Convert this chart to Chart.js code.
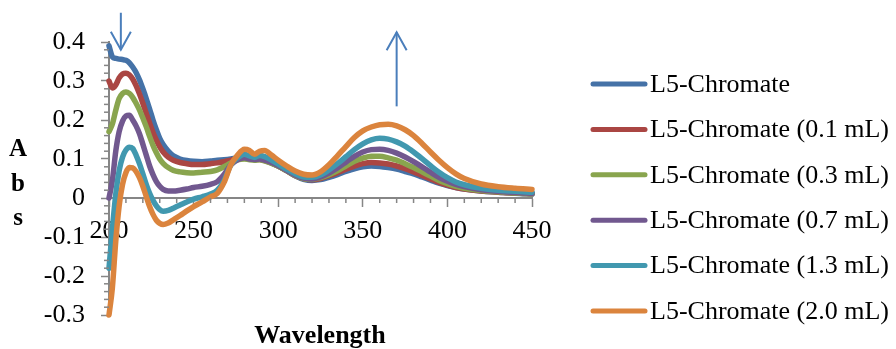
<!DOCTYPE html>
<html>
<head>
<meta charset="utf-8">
<script src="https://cdn.jsdelivr.net/npm/chart.js@4.4.0/dist/chart.umd.min.js"></script>
<style>
html, body { margin: 0; padding: 0; background: #fff; }
#wrap { position: relative; width: 896px; height: 349px; }
</style>
</head>
<body>
<div id="wrap"><canvas id="uvchart" width="896" height="349"></canvas></div>
<script>
// wavelength (nm) and absorbance
var wavelengths = [200, 202, 204, 206, 208, 210, 212, 214, 216, 218, 220, 222, 224, 226, 228, 230, 232, 235, 238, 242, 246, 250, 255, 260, 264, 268, 272, 276, 280, 283, 286, 289, 292, 296, 300, 305, 310, 315, 320, 325, 330, 335, 340, 345, 350, 355, 360, 365, 370, 375, 380, 385, 390, 395, 400, 405, 410, 420, 430, 440, 450]

var abs_l5 = [0.39, 0.362, 0.358, 0.356, 0.355, 0.353, 0.347, 0.336, 0.322, 0.303, 0.28, 0.255, 0.228, 0.2, 0.175, 0.153, 0.137, 0.12, 0.108, 0.1, 0.096, 0.094, 0.093, 0.095, 0.097, 0.098, 0.1, 0.103, 0.104, 0.102, 0.1, 0.1, 0.097, 0.09, 0.082, 0.07, 0.057, 0.048, 0.045, 0.047, 0.053, 0.06, 0.068, 0.075, 0.08, 0.082, 0.081, 0.078, 0.074, 0.068, 0.062, 0.054, 0.046, 0.038, 0.032, 0.027, 0.023, 0.018, 0.015, 0.012, 0.01]
var abs_01 = [0.30, 0.282, 0.29, 0.308, 0.318, 0.32, 0.316, 0.305, 0.288, 0.267, 0.243, 0.217, 0.192, 0.168, 0.148, 0.131, 0.118, 0.105, 0.097, 0.091, 0.088, 0.086, 0.086, 0.088, 0.09, 0.093, 0.097, 0.101, 0.103, 0.101, 0.099, 0.099, 0.096, 0.09, 0.082, 0.07, 0.058, 0.05, 0.047, 0.05, 0.057, 0.065, 0.074, 0.082, 0.088, 0.091, 0.09, 0.087, 0.082, 0.075, 0.067, 0.058, 0.049, 0.04, 0.033, 0.027, 0.023, 0.018, 0.015, 0.013, 0.011]
var abs_03 = [0.17, 0.19, 0.225, 0.255, 0.268, 0.272, 0.268, 0.258, 0.243, 0.226, 0.205, 0.183, 0.158, 0.135, 0.116, 0.1, 0.089, 0.078, 0.071, 0.067, 0.065, 0.064, 0.066, 0.068, 0.072, 0.08, 0.09, 0.098, 0.1, 0.098, 0.097, 0.098, 0.095, 0.089, 0.082, 0.07, 0.058, 0.05, 0.048, 0.052, 0.06, 0.07, 0.082, 0.094, 0.102, 0.107, 0.107, 0.103, 0.097, 0.088, 0.078, 0.067, 0.056, 0.045, 0.037, 0.03, 0.025, 0.019, 0.016, 0.013, 0.011]
var abs_07 = [0.0, 0.045, 0.12, 0.17, 0.197, 0.21, 0.212, 0.2, 0.185, 0.165, 0.138, 0.11, 0.082, 0.06, 0.042, 0.03, 0.022, 0.018, 0.018, 0.02, 0.023, 0.027, 0.03, 0.035, 0.042, 0.06, 0.085, 0.098, 0.103, 0.1, 0.099, 0.1, 0.097, 0.091, 0.083, 0.071, 0.059, 0.051, 0.049, 0.054, 0.064, 0.077, 0.092, 0.107, 0.118, 0.124, 0.125, 0.122, 0.115, 0.105, 0.093, 0.08, 0.066, 0.053, 0.043, 0.035, 0.029, 0.021, 0.017, 0.014, 0.012]
var abs_13 = [-0.18, -0.08, 0.01, 0.07, 0.105, 0.123, 0.13, 0.127, 0.11, 0.088, 0.062, 0.035, 0.012, -0.006, -0.02, -0.03, -0.034, -0.032, -0.026, -0.018, -0.01, -0.003, 0.003, 0.01, 0.02, 0.045, 0.085, 0.103, 0.112, 0.108, 0.104, 0.109, 0.106, 0.097, 0.087, 0.074, 0.062, 0.054, 0.053, 0.059, 0.072, 0.088, 0.106, 0.124, 0.139, 0.149, 0.153, 0.151, 0.144, 0.133, 0.118, 0.101, 0.083, 0.066, 0.052, 0.041, 0.034, 0.025, 0.02, 0.017, 0.015]
var abs_20 = [-0.3, -0.23, -0.11, -0.02, 0.035, 0.065, 0.078, 0.077, 0.068, 0.052, 0.03, 0.004, -0.022, -0.042, -0.057, -0.065, -0.068, -0.064, -0.056, -0.045, -0.033, -0.022, -0.01, 0.003, 0.012, 0.04, 0.085, 0.11, 0.125, 0.122, 0.112, 0.12, 0.122, 0.11, 0.097, 0.082, 0.069, 0.061, 0.059, 0.067, 0.085, 0.108, 0.132, 0.155, 0.172, 0.182, 0.188, 0.189, 0.185, 0.175, 0.16, 0.14, 0.118, 0.097, 0.078, 0.062, 0.05, 0.036, 0.029, 0.025, 0.022]

var series_labels = ['L5-Chromate', 'L5-Chromate (0.1 mL)', 'L5-Chromate (0.3 mL)', 'L5-Chromate (0.7 mL)', 'L5-Chromate (1.3 mL)', 'L5-Chromate (2.0 mL)']
var series_values = [abs_l5, abs_01, abs_03, abs_07, abs_13, abs_20]
var series_colors = ['#4572A7', '#AA4643', '#89A54E', '#71588F', '#4198AF', '#DB843D']

var x_ticks = [200, 250, 300, 350, 400, 450]
var y_ticks = [-0.3, -0.2, -0.1, 0, 0.1, 0.2, 0.3, 0.4]

// arrows drawn on the plot (wavelength, absorbance from -> to)
var arrows = [
	{x: 207, from: 0.475, to: 0.38},
	{x: 370, from: 0.235, to: 0.425}
]

var serif = "'Liberation Serif', 'Times New Roman', serif"
var axis_gray = '#868686'

function make_points(values){
	var pts = []
	for (var i = 0; i < wavelengths.length; i++){
		pts.push({x: wavelengths[i], y: values[i]})
	}
	return pts
}

var datasets = []
for (var s = 0; s < series_labels.length; s++){
	datasets.push({
		label: series_labels[s],
		data: make_points(series_values[s]),
		borderColor: series_colors[s],
		backgroundColor: series_colors[s],
		borderWidth: 5.5,
		borderCapStyle: 'round',
		borderJoinStyle: 'round',
		pointRadius: 0,
		cubicInterpolationMode: 'monotone',
		clip: false,
		order: series_labels.length - s
	})
}

var decor = {
	id: 'decor',
	afterDraw: function(chart){
		var ctx = chart.ctx
		var xs = chart.scales.x, ys = chart.scales.y
		var y0 = ys.getPixelForValue(0)
		ctx.save()

		// minor ticks
		ctx.strokeStyle = axis_gray
		ctx.lineWidth = 1.5
		for (var w = 200; w <= 450; w += 10){
			if (w % 50 == 0) continue
			var px = xs.getPixelForValue(w)
			ctx.beginPath(); ctx.moveTo(px, y0); ctx.lineTo(px, y0 + 5); ctx.stroke()
		}
		for (var k = -15; k <= 20; k++){
			if (k % 5 == 0) continue
			var py = ys.getPixelForValue(k * 0.02)
			ctx.beginPath(); ctx.moveTo(xs.left - 5, py); ctx.lineTo(xs.left, py); ctx.stroke()
		}

		// arrows
		ctx.strokeStyle = '#4A7EBB'
		ctx.lineWidth = 2
		arrows.forEach(function(a){
			var ax = xs.getPixelForValue(a.x)
			var p1 = ys.getPixelForValue(a.from), p2 = ys.getPixelForValue(a.to)
			var dir = p2 > p1 ? 1 : -1
			ctx.beginPath(); ctx.moveTo(ax, p1); ctx.lineTo(ax, p2); ctx.stroke()
			ctx.beginPath()
			ctx.moveTo(ax - 10, p2 - dir * 18); ctx.lineTo(ax, p2); ctx.lineTo(ax + 10, p2 - dir * 18)
			ctx.stroke()
		})

		// axis titles
		ctx.fillStyle = '#000'
		ctx.font = 'bold 25px ' + serif
		ctx.textAlign = 'center'
		ctx.textBaseline = 'middle'
		ctx.fillText('A', 18, 150)
		ctx.fillText('b', 18, 185)
		ctx.fillText('s', 18, 219)
		ctx.font = 'bold 26px ' + serif
		ctx.fillText('Wavelength', 320, 336)

		// legend
		ctx.font = '26px ' + serif
		ctx.textAlign = 'left'
		chart.data.datasets.forEach(function(ds, i){
			var ly = 84 + i * 45.4
			ctx.strokeStyle = ds.borderColor
			ctx.lineWidth = 5
			ctx.lineCap = 'round'
			ctx.beginPath(); ctx.moveTo(593, ly); ctx.lineTo(645, ly); ctx.stroke()
			ctx.fillText(ds.label, 650, ly + 1)
		})
		ctx.restore()
	}
}

var ctx = document.getElementById('uvchart').getContext('2d')
var myChart = new Chart(ctx, {
	type: 'line',
	data: { datasets: datasets },
	options: {
		responsive: false,
		animation: false,
		devicePixelRatio: 1,
		layout: { padding: { left: 0, right: 364, top: 42, bottom: 34 } },
		plugins: { legend: { display: false }, tooltip: { enabled: false } },
		scales: {
			x: {
				type: 'linear',
				min: 200,
				max: 450,
				position: { y: 0 },
				afterBuildTicks: function(axis){ axis.ticks = x_ticks.map(function(v){ return {value: v} }) },
				border: { color: axis_gray, width: 2 },
				grid: { drawOnChartArea: false, drawTicks: true, tickLength: 8, tickColor: axis_gray, tickWidth: 1.5 },
				ticks: { color: '#000', font: { family: serif, size: 26 }, padding: 10, maxRotation: 0, autoSkip: false }
			},
			y: {
				type: 'linear',
				min: -0.3,
				max: 0.4,
				afterBuildTicks: function(axis){ axis.ticks = y_ticks.map(function(v){ return {value: v} }) },
				afterFit: function(axis){ axis.width = 109 },
				border: { color: axis_gray, width: 2 },
				grid: { drawOnChartArea: false, drawTicks: true, tickLength: 8, tickColor: axis_gray, tickWidth: 1.5 },
				ticks: {
					color: '#000',
					font: { family: serif, size: 26 },
					padding: 16,
					callback: function(v){ return String(Math.round(v * 10) / 10) }
				}
			}
		}
	},
	plugins: [decor]
})
</script>
</body>
</html>
